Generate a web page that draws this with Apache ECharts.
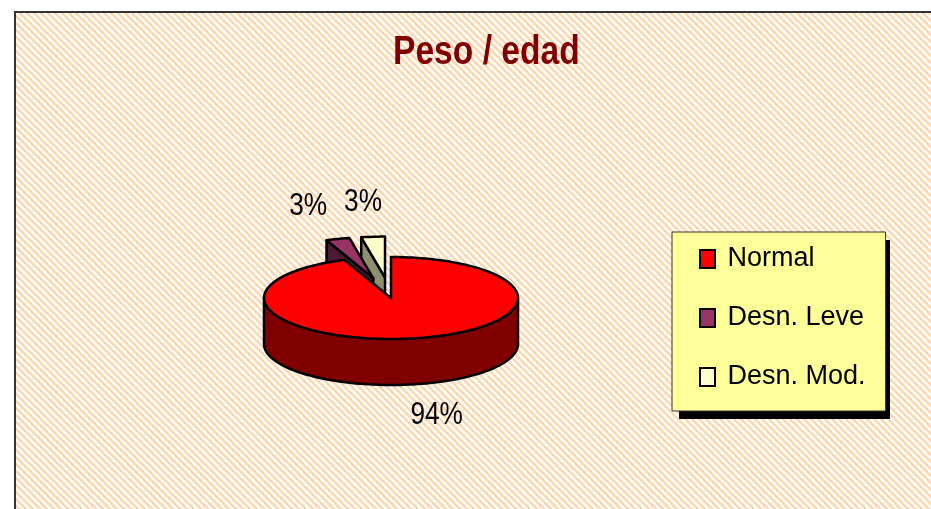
<!DOCTYPE html>
<html>
<head>
<meta charset="utf-8">
<script src="https://cdn.jsdelivr.net/npm/echarts@6/dist/echarts.min.js"></script>
<style>html,body{margin:0;padding:0;background:#fff}#main{width:931px;height:509px}</style>
</head>
<body>
<div id="main"></div>
<script>
var categories = ['Normal', 'Desn. Leve', 'Desn. Mod.'];
var values = [94, 3, 3];
var labels = ['94%', '3%', '3%'];
var topColors = ['#FF0000', '#993366', '#FFFFCC'];
var sideColors = ['#800000', '#4D1A33', '#8F8F70'];
var explode = [0, 0.5, 0.5];

var FONT = '"Liberation Sans", Arial, sans-serif';
var NARROW = 0.82; // the original uses a narrow face, squeeze the text
// ellipse of the top face, depth of the 3d side
var pie = {cx: 391, cy: 298, rx: 127, ry: 41, depth: 46};

var total = values.reduce(function(a, b){ return a + b; }, 0);
var starts = [];
var acc = 0;
values.forEach(function(v){ starts.push(acc / total * 360); acc += v; });

function rad(d){ return d * Math.PI / 180; }

function renderSlice(params, api){
    var i = params.seriesIndex;
    var v = api.value(0);
    var a0 = starts[i], a1 = a0 + v / total * 360, mid = (a0 + a1) / 2;
    var ox = explode[i] * pie.rx * Math.sin(rad(mid));
    var oy = -explode[i] * pie.ry * Math.cos(rad(mid));
    var h = pie.depth;
    function P(a, dy){
        return [pie.cx + ox + pie.rx * Math.sin(rad(a)), pie.cy + oy - pie.ry * Math.cos(rad(a)) + (dy || 0)];
    }
    function arc(from, to, dy){
        var pts = [], n = Math.max(2, Math.ceil(Math.abs(to - from) / 2));
        for (var k = 0; k <= n; k++) pts.push(P(from + (to - from) * k / n, dy));
        return pts;
    }
    var C = [pie.cx + ox, pie.cy + oy], Cb = [C[0], C[1] + h];
    var base = i === 0 ? 20 : (values.length - i) * 4;
    var line = {stroke: '#000', lineWidth: 2.5, lineJoin: 'round'};
    var kids = [];
    function poly(points, fill, z){
        kids.push({type: 'polygon', z2: base + z, shape: {points: points},
            style: Object.assign({fill: fill}, line)});
    }
    // cut faces facing the viewer
    if (Math.sin(rad(a0)) < -1e-6) poly([C, P(a0), P(a0, h), Cb], sideColors[i], 0);
    if (Math.sin(rad(a1)) > 1e-6) poly([C, P(a1), P(a1, h), Cb], sideColors[i], 0);
    // front wall
    var w0 = Math.max(a0, 90), w1 = Math.min(a1, 270);
    if (w0 < w1) poly(arc(w0, w1).concat(arc(w1, w0, h)), sideColors[i], 1);
    // top
    poly([C].concat(arc(a0, a1)), topColors[i], 2);
    // label
    var k = 2.34;
    var lx = pie.cx + k * pie.rx * Math.sin(rad(mid)) - (Math.cos(rad(mid)) < 0 ? 10 : 0);
    var ly = pie.cy - k * pie.ry * Math.cos(rad(mid)) + (Math.cos(rad(mid)) < 0 ? h * 0.5 : 0);
    kids.push({type: 'text', z2: 40, x: lx, y: ly, scaleX: NARROW,
        style: {text: labels[i], fill: '#000', font: '32px ' + FONT, align: 'center', verticalAlign: 'middle'}});
    return {type: 'group', children: kids};
}

// hatch pattern for the chart area
var tile = document.createElement('canvas');
tile.width = 7; tile.height = 7;
var ctx = tile.getContext('2d');
ctx.fillStyle = '#fff';
ctx.fillRect(0, 0, 7, 7);
ctx.strokeStyle = '#FFD6AD';
ctx.lineWidth = 2.5;
for (var s = -1; s <= 1; s++){
    ctx.beginPath();
    ctx.moveTo(s * 7 - 1, -1);
    ctx.lineTo(s * 7 + 8, 8);
    ctx.stroke();
}

var chart = echarts.init(document.getElementById('main'));
chart.setOption({
    animation: false,
    backgroundColor: '#fff',
    legend: {
        orient: 'vertical',
        left: 672,
        top: 232,
        z: 5,
        selectedMode: false,
        icon: 'rect',
        itemWidth: 15,
        itemHeight: 18,
        itemGap: 29,
        padding: [12, 20, 19, 27],
        backgroundColor: '#FFFF99',
        borderColor: '#333',
        borderWidth: 1,
        itemStyle: {borderColor: '#000', borderWidth: 2},
        formatter: ' {name}',
        textStyle: {fontFamily: FONT, fontSize: 27, color: '#000', lineHeight: 30},
        data: categories
    },
    graphic: [{
        type: 'rect',
        z: -10,
        silent: true,
        shape: {x: 15, y: 12, width: 960, height: 540},
        style: {fill: {image: tile, repeat: 'repeat'}, stroke: '#333', lineWidth: 2}
    }, {
        // legend drop shadow
        type: 'rect',
        z: 1,
        silent: true,
        shape: {x: 679, y: 240, width: 211, height: 179},
        style: {fill: '#000'}
    }, {
        type: 'text',
        z: 5,
        x: 393,
        y: 53,
        scaleX: 0.84,
        style: {text: 'Peso / edad', fill: '#800000', font: 'bold 40px ' + FONT, verticalAlign: 'middle'}
    }],
    series: categories.map(function(name, i){
        return {
            type: 'custom',
            name: name,
            coordinateSystem: 'none',
            itemStyle: {color: topColors[i]},
            data: [values[i]],
            renderItem: renderSlice
        };
    })
});
</script>
</body>
</html>
